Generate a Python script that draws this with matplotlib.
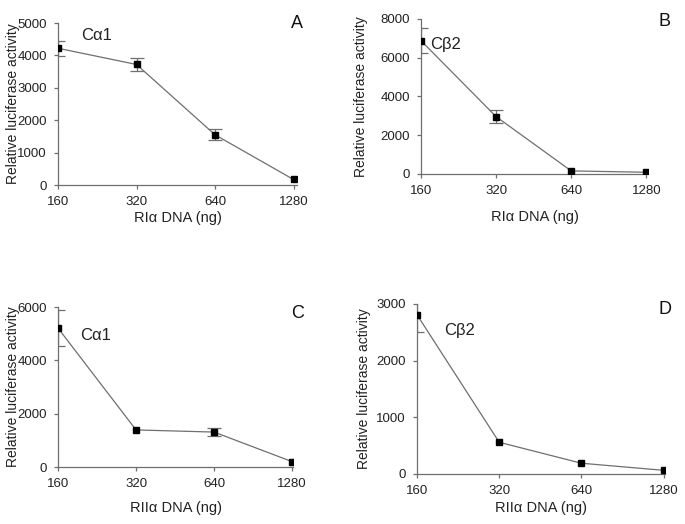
import numpy as np
import matplotlib.pyplot as plt

plt.rcParams['font.family'] = ['Liberation Sans', 'DejaVu Sans']

dna = [160, 320, 640, 1280]
xticklabels = ['160', '320', '640', '1280']

a_vals = [4220, 3720, 1550, 170]
a_err = [230, 200, 170, 0]
b_vals = [6880, 2960, 160, 90]
b_err = [650, 340, 0, 0]
c_vals = [5210, 1390, 1310, 200]
c_err = [680, 0, 160, 0]
d_vals = [2810, 560, 190, 65]
d_err = [300, 0, 0, 0]

GRAY = '#6f6f6f'
W, H = 685, 524

def px_axes(left, right, top, bottom):
    return [left / W, 1 - bottom / H, (right - left) / W, (bottom - top) / H]

panels = [
    # rect, values, errors, ymax, yticks, xlabel, letter, letter pos, inner label, inner pos, xmax, ylabel x, xlabel y
    (px_axes(58, 297, 23, 185), a_vals, a_err, 5000, [0, 1000, 2000, 3000, 4000, 5000],
     'RI\u03b1 DNA (ng)', 'A', (297, 23), 'C\u03b11', (97, 35), 1320, 13, 218),
    (px_axes(421, 648, 19, 174), b_vals, b_err, 8000, [0, 2000, 4000, 6000, 8000],
     'RI\u03b1 DNA (ng)', 'B', (665, 22), 'C\u03b22', (446, 45), 1300, 361, 217),
    (px_axes(58, 293, 307, 467), c_vals, c_err, 6000, [0, 2000, 4000, 6000],
     'RII\u03b1 DNA (ng)', 'C', (298, 313), 'C\u03b11', (96, 335), 1290, 13, 508),
    (px_axes(417, 665, 304, 474), d_vals, d_err, 3000, [0, 1000, 2000, 3000],
     'RII\u03b1 DNA (ng)', 'D', (665, 309), 'C\u03b22', (460, 330), 1295, 364, 508),
]

fig = plt.figure(figsize=(6.85, 5.24), dpi=100)

for rect, vals, err, ymax, yticks, xlabel, letter, lpos, inner, ipos, xmax, ylx, xly in panels:
    ax = fig.add_axes(rect)
    # only draw error bars that are visible beyond the marker
    idx = [i for i, e in enumerate(err) if e > 0]
    ax.errorbar([dna[i] for i in idx], [vals[i] for i in idx], yerr=[err[i] for i in idx],
                fmt='none', ecolor=GRAY, elinewidth=0.9, capsize=5, capthick=0.9, zorder=2)
    ax.plot(dna, vals, color=GRAY, lw=0.9, marker='s', markersize=4.8,
            markerfacecolor='black', markeredgecolor='black', zorder=3)
    ax.set_xscale('log', base=2)
    ax.set_xlim(160, xmax)
    ax.set_ylim(0, ymax)
    ax.set_xticks(dna)
    ax.set_xticklabels(xticklabels)
    ax.minorticks_off()
    ax.set_yticks(yticks)
    ax.spines['top'].set_visible(False)
    ax.spines['right'].set_visible(False)
    for s in ['left', 'bottom']:
        ax.spines[s].set_color(GRAY)
        ax.spines[s].set_linewidth(0.9)
    ax.tick_params(axis='both', colors=GRAY, labelcolor='#222222', labelsize=9.5,
                   length=3, width=0.9, pad=5)
    ax.set_xlabel(xlabel, fontsize=10.5, color='#222222', va='center')
    ax.set_ylabel('Relative luciferase activity', fontsize=10, color='#222222', va='center')
    # label positions measured in pixels
    x0, y0, w, h = rect
    ax.yaxis.set_label_coords((ylx / W - x0) / w, 0.5)
    ax.xaxis.set_label_coords(0.5, ((1 - xly / H) - y0) / h)
    ax.patch.set_alpha(0)
    fig.text(lpos[0] / W, 1 - lpos[1] / H, letter, fontsize=13, ha='center', va='center',
             color='#111111')
    fig.text(ipos[0] / W, 1 - ipos[1] / H, inner, fontsize=12, ha='center', va='center',
             color='#222222')

fig.savefig('out.png', dpi=100)
